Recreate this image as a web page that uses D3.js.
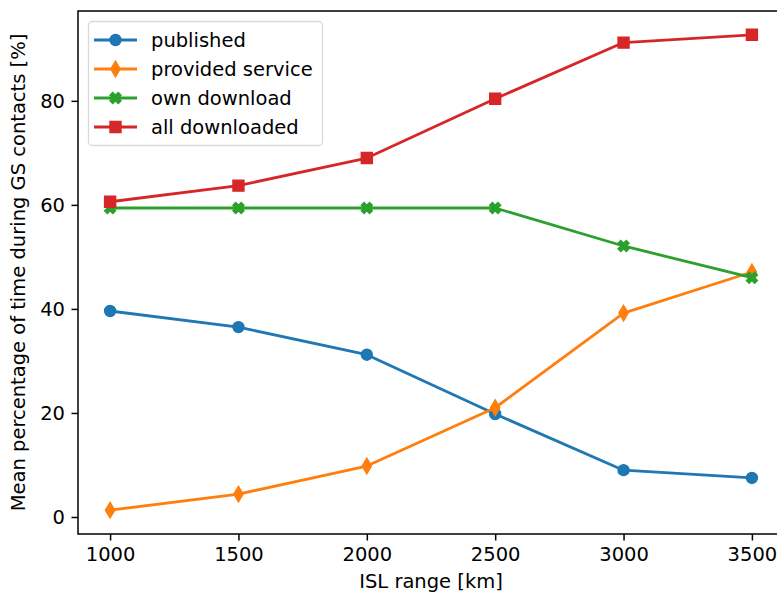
<!DOCTYPE html>
<html>
<head>
<meta charset="utf-8">
<script src="https://cdn.jsdelivr.net/npm/d3@7"></script>
<style>
  html, body { margin: 0; padding: 0; background: #fff; }
  svg { display: block; font-family: "DejaVu Sans", sans-serif; }
</style>
</head>
<body>
<svg id="chart" width="777" height="594"></svg>
<script>
// ISL range values (km)
const ranges = [1000, 1500, 2000, 2500, 3000, 3500];
const xTicks = [1000, 1500, 2000, 2500, 3000, 3500];
const yTicks = [0, 20, 40, 60, 80];

// Mean percentage of time during GS contacts per series
const published       = [39.6, 36.5, 31.2, 19.8, 9.0, 7.5];
const providedService = [1.3, 4.4, 9.8, 21.0, 39.2, 47.1];
const ownDownload     = [59.4, 59.4, 59.4, 59.4, 52.1, 46.0];
const allDownloaded   = [60.6, 63.7, 69.0, 80.4, 91.2, 92.7];

const seriesNames = ["published", "provided service", "own download", "all downloaded"];
const seriesColors = ["#1f77b4", "#ff7f0e", "#2ca02c", "#d62728"];
const seriesMarkers = ["circle", "thinDiamond", "filledX", "square"];
const seriesValues = [published, providedService, ownDownload, allDownloaded];

const series = seriesNames.map((name, i) => ({
  name, color: seriesColors[i], marker: seriesMarkers[i],
  points: ranges.map((r, j) => ({ x: r, y: seriesValues[i][j] }))
}));

const FS = 19.5;        // font size
const LW = 2.8;         // line width
const MS = 11;          // marker size
const MEW = 1.4;        // marker edge width

const svg = d3.select("#chart");
const frame = { left: 78, top: 11, right: 784, bottom: 534 };

// 5% padding around the data range
const allY = seriesValues.flat();
const xPad = (d3.max(ranges) - d3.min(ranges)) * 0.05;
const yPad = (d3.max(allY) - d3.min(allY)) * 0.05;
const x = d3.scaleLinear()
  .domain([d3.min(ranges) - xPad, d3.max(ranges) + xPad])
  .range([frame.left, frame.right]);
const y = d3.scaleLinear()
  .domain([d3.min(allY) - yPad, d3.max(allY) + yPad])
  .range([frame.bottom, frame.top]);

// marker path generators (centered at 0,0)
function markerPath(kind) {
  const p = d3.path();
  const s = MS;
  if (kind === "circle") {
    p.arc(0, 0, s / 2, 0, 2 * Math.PI);
  } else if (kind === "square") {
    p.rect(-s / 2, -s / 2, s, s);
  } else if (kind === "thinDiamond") {
    const h = s * Math.SQRT1_2, w = h * 0.6;
    p.moveTo(0, -h); p.lineTo(w, 0); p.lineTo(0, h); p.lineTo(-w, 0); p.closePath();
  } else if (kind === "filledX") {
    const pts = [[-1, -2], [0, -1], [1, -2], [2, -1], [1, 0], [2, 1], [1, 2], [0, 1], [-1, 2], [-2, 1], [-1, 0], [-2, -1]];
    pts.forEach(([px, py], i) => {
      const rx = px / 4 * s, ry = py / 4 * s;
      if (i === 0) p.moveTo(rx, ry); else p.lineTo(rx, ry);
    });
    p.closePath();
  }
  return p.toString();
}

const line = d3.line().x(d => x(d.x)).y(d => y(d.y));

const plot = svg.append("g");
series.forEach(s => {
  const g = plot.append("g");
  g.append("path")
    .attr("d", line(s.points))
    .attr("fill", "none")
    .attr("stroke", s.color)
    .attr("stroke-width", LW)
    .attr("stroke-linejoin", "round");
  g.selectAll("path.m")
    .data(s.points)
    .join("path")
    .attr("class", "m")
    .attr("d", markerPath(s.marker))
    .attr("transform", d => `translate(${x(d.x)},${y(d.y)})`)
    .attr("fill", s.color)
    .attr("stroke", s.color)
    .attr("stroke-width", MEW)
    .attr("stroke-linejoin", "miter");
});

// axes
const xAxis = d3.axisBottom(x).tickValues(xTicks).tickSize(6.5).tickPadding(6.5).tickFormat(d3.format("d"));
const yAxis = d3.axisLeft(y).tickValues(yTicks).tickSize(6.5).tickPadding(6.5).tickFormat(d3.format("d"));

const gx = svg.append("g").attr("transform", `translate(0,${frame.bottom})`).call(xAxis);
const gy = svg.append("g").attr("transform", `translate(${frame.left},0)`).call(yAxis);
[gx, gy].forEach(g => {
  g.select(".domain").remove();
  g.selectAll(".tick line").attr("stroke", "#000").attr("stroke-width", 1.5);
  g.selectAll(".tick text").attr("fill", "#000").attr("font-size", FS)
    .attr("font-family", "DejaVu Sans, sans-serif");
});

// spines
svg.append("rect")
  .attr("x", frame.left).attr("y", frame.top)
  .attr("width", frame.right - frame.left).attr("height", frame.bottom - frame.top)
  .attr("fill", "none").attr("stroke", "#000").attr("stroke-width", 1.5);

// axis labels
svg.append("text")
  .attr("x", (frame.left + frame.right) / 2).attr("y", 588)
  .attr("text-anchor", "middle").attr("font-size", FS)
  .text("ISL range [km]");
svg.append("text")
  .attr("transform", `translate(25,${(frame.top + frame.bottom) / 2}) rotate(-90)`)
  .attr("text-anchor", "middle").attr("font-size", FS)
  .text("Mean percentage of time during GS contacts [%]");

// legend
const lg = svg.append("g").attr("transform", "translate(88,21)");
lg.append("rect")
  .attr("x", 0.5).attr("y", 0.5).attr("width", 234).attr("height", 124)
  .attr("rx", 4).attr("fill", "#fff").attr("fill-opacity", 0.8)
  .attr("stroke", "#d9d9d9").attr("stroke-width", 1.3);
series.forEach((s, i) => {
  const cy = 19 + i * 29;
  lg.append("line").attr("x1", 6).attr("x2", 49).attr("y1", cy).attr("y2", cy)
    .attr("stroke", s.color).attr("stroke-width", LW);
  lg.append("path").attr("d", markerPath(s.marker))
    .attr("transform", `translate(27.5,${cy})`)
    .attr("fill", s.color).attr("stroke", s.color).attr("stroke-width", MEW);
  lg.append("text").attr("x", 63).attr("y", cy + 6.5).attr("font-size", FS)
    .text(s.name);
});
</script>
</body>
</html>
